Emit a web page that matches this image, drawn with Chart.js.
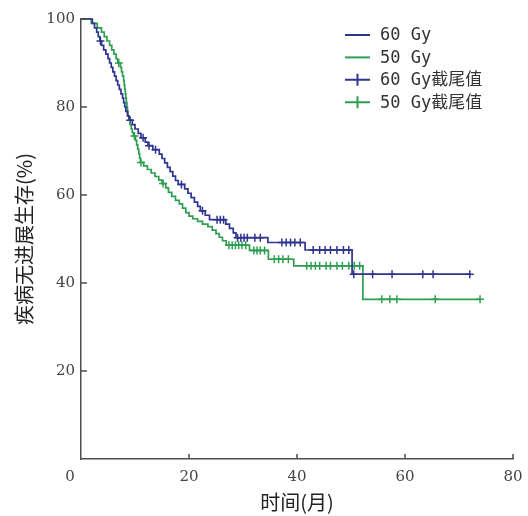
<!DOCTYPE html>
<html>
<head>
<meta charset="utf-8">
<script src="https://cdn.jsdelivr.net/npm/chart.js@4/dist/chart.umd.min.js"></script>
<style>
  body { margin: 0; background: #fff; }
  #pfsChart { display: block; }
</style>
</head>
<body>
<canvas id="pfsChart" width="528" height="516"></canvas>
<script>
// Kaplan-Meier steps: month of event, survival (%) after the event
var months60 = [0, 2.1, 2.5, 2.9, 3.2, 3.5, 3.8, 4.2, 4.6, 5.0, 5.3, 5.6, 5.9, 6.2, 6.5, 6.8, 7.1, 7.4, 7.7, 7.9,
    8.1, 8.3, 8.6, 8.9, 9.5, 10.0, 10.6, 11.1, 11.9, 12.4, 13.3, 14.5, 15.0, 15.5, 16.0, 16.5, 17.0, 17.5, 18.0, 19.2,
    19.8, 20.4, 21.0, 21.6, 22.1, 23.0, 23.8, 26.8, 27.5, 28.2, 28.7, 34.6, 41.5, 50.2, 72.0];
var surv60 = [100, 99, 98, 97, 96, 95, 94, 93, 92, 91, 90, 89, 88, 87, 86, 85, 84, 83, 82, 81,
    80, 79, 78, 77, 76, 75, 74, 73, 72, 71.2, 70.3, 69.3, 68.3, 67.3, 66.3, 65.3, 64.3, 63.3, 62.4, 61.4,
    60.4, 59.4, 58.4, 57.4, 56.4, 55.4, 54.4, 53.4, 52.4, 51.4, 50.3, 49.2, 47.5, 42.0, 42.0];

var months50 = [0, 1.9, 3.0, 3.8, 4.3, 4.8, 5.3, 5.7, 6.1, 6.5, 6.8, 7.3, 7.5, 7.7, 7.9, 8.0, 8.1, 8.2, 8.3, 8.4,
    8.5, 8.6, 8.7, 8.9, 9.1, 9.3, 9.5, 9.7, 10.1, 10.3, 10.5, 10.7, 10.85, 11.0, 11.6, 12.3, 13.0, 13.7, 14.4, 15.0,
    15.7, 16.2, 16.8, 17.5, 18.2, 18.8, 19.4, 20.0, 20.7, 21.6, 22.5, 23.5, 24.3, 25.0, 25.6, 26.2, 26.9, 31.2, 34.7, 39.4,
    52.2, 73.9];
var surv50 = [100, 99, 98, 97, 96, 95, 94, 93, 92, 91, 90, 89, 88, 87, 86, 85, 84, 83, 82, 81,
    80, 79, 78, 77, 76, 75, 74.2, 73.4, 72.4, 71.4, 70.4, 69.4, 68.4, 67.4, 66.6, 65.8, 65.0, 64.2, 63.4, 62.6,
    61.6, 60.6, 59.7, 58.8, 58.0, 57.0, 56.0, 55.2, 54.6, 54.0, 53.4, 52.8, 52.0, 51.2, 50.4, 49.6, 48.6, 47.4, 45.4, 43.9,
    36.3, 36.3];

// censored observations
var censorMonths60 = [3.6, 9.1, 11.5, 12.6, 13.8, 18.6, 22.5, 25.2, 25.8, 26.4, 29.0, 29.6, 30.2, 30.8, 32.2, 33.2,
    37.2, 38.0, 38.8, 39.6, 40.6, 43.0, 44.2, 45.2, 46.2, 47.4, 48.6, 49.6, 50.5, 54.0, 57.6, 63.3, 65.2, 72.0];
var censorSurv60 = [95, 77, 73, 71.2, 70.3, 62.4, 56.4, 54.4, 54.4, 54.4, 50.3, 50.3, 50.3, 50.3, 50.3, 50.3,
    49.2, 49.2, 49.2, 49.2, 49.2, 47.5, 47.5, 47.5, 47.5, 47.5, 47.5, 47.5, 42, 42, 42, 42, 42, 42];

var censorMonths50 = [7.0, 9.9, 11.1, 15.2, 27.4, 28.0, 28.6, 29.2, 29.8, 30.5, 32.0, 32.6, 33.2, 34.0,
    35.8, 36.6, 37.4, 38.4, 41.8, 42.6, 43.4, 44.2, 45.4, 46.2, 47.4, 48.4, 49.6, 50.6, 51.6, 55.7, 57.2, 58.5, 65.6, 73.9];
var censorSurv50 = [90, 73.4, 67.4, 62.6, 48.6, 48.6, 48.6, 48.6, 48.6, 48.6, 47.4, 47.4, 47.4, 47.4,
    45.4, 45.4, 45.4, 45.4, 43.9, 43.9, 43.9, 43.9, 43.9, 43.9, 43.9, 43.9, 43.9, 43.9, 43.9, 36.3, 36.3, 36.3, 36.3, 36.3];

var seriesLabels = ['60 Gy', '50 Gy', '60 Gy截尾值', '50 Gy截尾值'];
var xTicks = [0, 20, 40, 60, 80];
var yTicks = [20, 40, 60, 80, 100];

var navy = '#2f3490';
var green = '#2f9e50';
var axisColor = '#4d4d4d';
var labelFont = { family: '"DejaVu Serif", serif', size: 15 };

function toPoints(xs, ys) {
    return xs.map(function (v, i) { return { x: v, y: ys[i] }; });
}

// ticks point into the plot, and the origin "0" sits left of the corner
var inwardTicks = {
    id: 'inwardTicks',
    afterDraw: function (chart) {
        var ctx = chart.ctx, area = chart.chartArea;
        var x = chart.scales.x, y = chart.scales.y;
        ctx.save();
        ctx.strokeStyle = axisColor;
        ctx.lineWidth = 1.5;
        ctx.beginPath();
        xTicks.forEach(function (v) {
            if (v === 0) return;
            var px = x.getPixelForValue(v);
            ctx.moveTo(px, area.bottom);
            ctx.lineTo(px, area.bottom - 5);
        });
        yTicks.forEach(function (v) {
            var py = y.getPixelForValue(v);
            ctx.moveTo(area.left, py);
            ctx.lineTo(area.left + 6, py);
        });
        ctx.stroke();
        ctx.fillStyle = '#444';
        ctx.font = labelFont.size + 'px ' + labelFont.family;
        ctx.textAlign = 'center';
        ctx.textBaseline = 'middle';
        ctx.fillText('0', x.getPixelForValue(0) - 11, area.bottom + 18);
        ctx.restore();
    }
};

var insideLegend = {
    id: 'insideLegend',
    afterDraw: function (chart) {
        var ctx = chart.ctx;
        var left = 345, top = 35, row = 22.4;
        ctx.save();
        ctx.font = '17px "DejaVu Sans Mono", "Noto Sans CJK SC", monospace';
        ctx.textBaseline = 'middle';
        chart.data.datasets.forEach(function (ds, i) {
            var yy = top + i * row;
            ctx.strokeStyle = ds.borderColor;
            ctx.lineWidth = 2;
            ctx.beginPath();
            ctx.moveTo(left, yy);
            ctx.lineTo(left + 25, yy);
            if (ds.pointStyle === 'cross') {
                ctx.moveTo(left + 12.5, yy - 6);
                ctx.lineTo(left + 12.5, yy + 6);
            }
            ctx.stroke();
            ctx.fillStyle = '#333';
            ctx.fillText(ds.label, left + 35, yy + 1);
        });
        ctx.restore();
    }
};

var ctx = document.getElementById('pfsChart').getContext('2d');

var chart = new Chart(ctx, {
    type: 'scatter',
    data: {
        datasets: [
            { label: seriesLabels[0], data: toPoints(months60, surv60), showLine: true, stepped: 'before',
              borderColor: navy, borderWidth: 1.7, pointRadius: 0, clip: false },
            { label: seriesLabels[1], data: toPoints(months50, surv50), showLine: true, stepped: 'before',
              borderColor: green, borderWidth: 1.7, pointRadius: 0, clip: false },
            { label: seriesLabels[2], data: toPoints(censorMonths60, censorSurv60), showLine: false,
              pointStyle: 'cross', pointRadius: 4, borderColor: navy, borderWidth: 1.5, clip: false },
            { label: seriesLabels[3], data: toPoints(censorMonths50, censorSurv50), showLine: false,
              pointStyle: 'cross', pointRadius: 4, borderColor: green, borderWidth: 1.5, clip: false }
        ]
    },
    options: {
        responsive: false,
        animation: false,
        layout: { padding: { left: 0, top: 19, right: 15, bottom: 1 } },
        plugins: {
            legend: { display: false },
            tooltip: { enabled: false }
        },
        scales: {
            x: {
                type: 'linear',
                min: 0,
                max: 80,
                afterBuildTicks: function (s) { s.ticks = xTicks.map(function (v) { return { value: v }; }); },
                afterFit: function (s) { s.height = 56; s.paddingLeft = 0; s.paddingRight = 0; },
                grid: { display: false, drawTicks: false },
                border: { display: true, color: axisColor, width: 1.5 },
                ticks: {
                    padding: 9,
                    color: '#444',
                    font: labelFont,
                    callback: function (v) { return v === 0 ? '' : v; }
                },
                title: {
                    display: true,
                    text: '时间(月)',
                    color: '#222',
                    font: { family: '"Noto Sans CJK SC", sans-serif', size: 20 },
                    padding: { top: 0, bottom: 1 }
                }
            },
            y: {
                min: 0,
                max: 100,
                afterBuildTicks: function (s) { s.ticks = yTicks.map(function (v) { return { value: v }; }); },
                afterFit: function (s) { s.width = 81; },
                grid: { display: false, drawTicks: false },
                border: { display: true, color: axisColor, width: 1.5 },
                ticks: {
                    padding: 6,
                    color: '#444',
                    font: labelFont
                },
                title: {
                    display: true,
                    text: '疾病无进展生存(%)',
                    color: '#222',
                    font: { family: '"Noto Sans CJK SC", sans-serif', size: 20 },
                    padding: { top: 12, bottom: 0 }
                }
            }
        }
    },
    plugins: [inwardTicks, insideLegend]
});
</script>
</body>
</html>
